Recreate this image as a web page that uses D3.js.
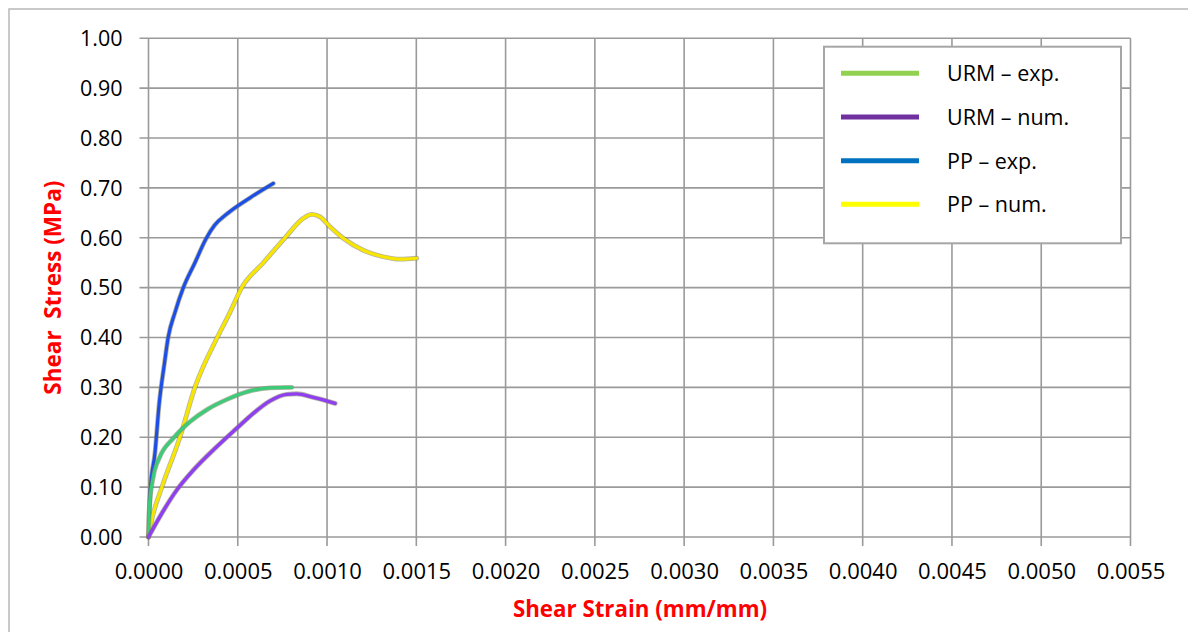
<!DOCTYPE html>
<html><head><meta charset="utf-8">
<script src="https://cdn.jsdelivr.net/npm/d3@7/dist/d3.min.js"></script>
<style>body{margin:0;background:#fff;}svg{display:block;}</style>
</head><body>
<svg id="c" width="1188" height="632"></svg>
<script>
// ---- data ----
const seriesNames = ["URM \u2013 exp.", "URM \u2013 num.", "PP \u2013 exp.", "PP \u2013 num."];
const legendColors = ["#92D050", "#7030A0", "#0070C0", "#FFFF00"];
const curveColors = ["#3ccb78", "#8f3ff0", "#1d4fe6", "#f8e600"];

const urmExpStrain = [0, 0.000005, 0.000027, 0.000064, 0.000139, 0.000232, 0.000330, 0.000440, 0.000560, 0.000680, 0.000802];
const urmExpStress = [0, 0.061, 0.121, 0.161, 0.198, 0.231, 0.256, 0.276, 0.292, 0.299, 0.300];

const urmNumStrain = [0, 0.000064, 0.000158, 0.000251, 0.000382, 0.000494, 0.000587, 0.000681, 0.000774, 0.00083, 0.000923, 0.001045];
const urmNumStress = [0, 0.041, 0.094, 0.134, 0.181, 0.218, 0.248, 0.273, 0.286, 0.287, 0.280, 0.268];

const ppExpStrain = [0, 0.00001, 0.000036, 0.00006, 0.00009, 0.000110, 0.000148, 0.000195, 0.00026, 0.000322, 0.00037, 0.00044, 0.000568, 0.000699];
const ppExpStress = [0, 0.094, 0.168, 0.268, 0.350, 0.400, 0.450, 0.500, 0.550, 0.598, 0.625, 0.648, 0.680, 0.709];

const ppNumStrain = [0, 0.000018, 0.000075, 0.000176, 0.00026, 0.000385, 0.000456, 0.000522, 0.000643, 0.000765, 0.000867, 0.000914, 0.000961, 0.001017, 0.001091, 0.001203, 0.001315, 0.001409, 0.001502];
const ppNumStress = [0, 0.034, 0.100, 0.200, 0.300, 0.400, 0.450, 0.500, 0.550, 0.600, 0.639, 0.647, 0.642, 0.622, 0.599, 0.575, 0.562, 0.557, 0.559];

const xTicks = [0, 0.0005, 0.001, 0.0015, 0.002, 0.0025, 0.003, 0.0035, 0.004, 0.0045, 0.005, 0.0055];
const yTicks = [0, 0.1, 0.2, 0.3, 0.4, 0.5, 0.6, 0.7, 0.8, 0.9, 1.0];

const xTitle = "Shear Strain (mm/mm)";
const yTitle = "Shear\u00a0 Stress (MPa)";

// ---- drawing ----
const svg = d3.select("#c");
const L = 148.5, R = 1130.5, T = 38.3, B = 537;
const x = d3.scaleLinear().domain([0, 0.0055]).range([L, R]);
const y = d3.scaleLinear().domain([0, 1]).range([B, T]);
const font = "'Open Sans', 'Liberation Sans', sans-serif";

// outer chart border
svg.append("rect").attr("x", 9).attr("y", 9).attr("width", 1300).attr("height", 800)
  .attr("fill", "#fff").attr("stroke", "#b8b8b8").attr("stroke-width", 1.5);

const gridColor = "#9a9a9a";
svg.append("g").selectAll("line").data(yTicks).join("line")
  .attr("x1", L - 9).attr("x2", R).attr("y1", d => y(d)).attr("y2", d => y(d))
  .attr("stroke", gridColor).attr("stroke-width", 1.6);
svg.append("g").selectAll("line").data(xTicks).join("line")
  .attr("x1", d => x(d)).attr("x2", d => x(d)).attr("y1", T).attr("y2", B + 9)
  .attr("stroke", gridColor).attr("stroke-width", 1.6);

const yAxis = d3.axisLeft(y).tickValues(yTicks).tickFormat(d3.format(".2f")).tickSize(0).tickPadding(26);
const gy = svg.append("g").attr("transform", `translate(${L},0)`).call(yAxis);
gy.select(".domain").remove();
gy.selectAll("text").attr("font-family", font).attr("font-size", 21.5).attr("fill", "#000").attr("dy", "0.34em");

const xAxis = d3.axisBottom(x).tickValues(xTicks).tickFormat(d3.format(".4f")).tickSize(0).tickPadding(26);
const gx = svg.append("g").attr("transform", `translate(0,${B})`).call(xAxis);
gx.select(".domain").remove();
gx.selectAll("text").attr("font-family", font).attr("font-size", 22).attr("fill", "#000");

svg.append("text").attr("x", 640).attr("y", 617).attr("text-anchor", "middle")
  .attr("font-family", font).attr("font-weight", "bold").attr("font-size", 22.3).attr("fill", "#ff0000")
  .text(xTitle);
svg.append("text").attr("transform", `translate(61,${(T + B) / 2}) rotate(-90)`).attr("text-anchor", "middle")
  .attr("font-family", font).attr("font-weight", "bold").attr("font-size", 22.5).attr("fill", "#ff0000")
  .text(yTitle);

// curves
const series = [
  {strain: urmExpStrain, stress: urmExpStress, w: 3.2},
  {strain: urmNumStrain, stress: urmNumStress, w: 3.4},
  {strain: ppExpStrain, stress: ppExpStress, w: 3.2},
  {strain: ppNumStrain, stress: ppNumStress, w: 3.2}
];
const line = d3.line().x(d => x(d[0])).y(d => y(d[1])).curve(d3.curveMonotoneX);
const order = [2, 3, 0, 1];
order.forEach(i => {
  const s = series[i];
  const pts = s.strain.map((v, k) => [v, s.stress[k]]);
  svg.append("path").datum(pts).attr("d", line).attr("fill", "none")
    .attr("stroke", "#7a7a5a").attr("stroke-opacity", 0.55).attr("stroke-width", s.w + 1.6)
    .attr("stroke-linecap", "round").attr("stroke-linejoin", "round");
  svg.append("path").datum(pts).attr("d", line).attr("fill", "none")
    .attr("stroke", curveColors[i]).attr("stroke-width", s.w)
    .attr("stroke-linecap", "round").attr("stroke-linejoin", "round");
});

// legend
const lg = svg.append("g");
lg.append("rect").attr("x", 824).attr("y", 46.7).attr("width", 297).attr("height", 196.6)
  .attr("fill", "#fff").attr("stroke", "#a6a6a6").attr("stroke-width", 2);
const ly = d3.scalePoint().domain(seriesNames).range([73.3, 204.3]);
seriesNames.forEach((n, i) => {
  lg.append("line").attr("x1", 841).attr("x2", 919).attr("y1", ly(n)).attr("y2", ly(n))
    .attr("stroke", legendColors[i]).attr("stroke-width", 5);
  lg.append("text").attr("x", 947).attr("y", ly(n) + 8).attr("font-family", font)
    .attr("font-size", 21.5).attr("fill", "#000").text(n);
});
</script>
</body></html>
